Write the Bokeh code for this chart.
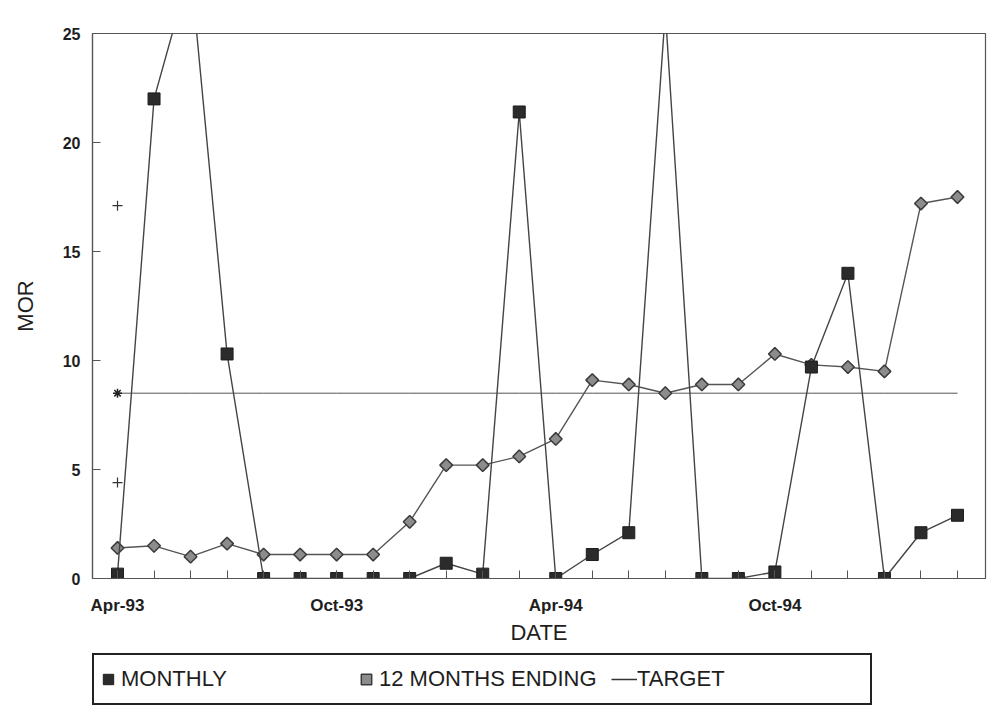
import math
from bokeh.plotting import figure
from bokeh.layouts import column
from bokeh.models import FixedTicker, Legend, LegendItem, Range1d
from bokeh.embed import file_html
from bokeh.resources import INLINE

# ---- data ----
months = ["Apr-93", "May-93", "Jun-93", "Jul-93", "Aug-93", "Sep-93", "Oct-93", "Nov-93",
          "Dec-93", "Jan-94", "Feb-94", "Mar-94", "Apr-94", "May-94", "Jun-94", "Jul-94",
          "Aug-94", "Sep-94", "Oct-94", "Nov-94", "Dec-94", "Jan-95", "Feb-95", "Mar-95"]
monthly = [0.2, 22.0, 28.0, 10.3, 0.0, 0.0, 0.0, 0.0, 0.0, 0.7, 0.2, 21.4,
           0.0, 1.1, 2.1, 26.0, 0.0, 0.0, 0.3, 9.7, 14.0, 0.0, 2.1, 2.9]
twelve_months = [1.4, 1.5, 1.0, 1.6, 1.1, 1.1, 1.1, 1.1, 2.6, 5.2, 5.2, 5.6,
                 6.4, 9.1, 8.9, 8.5, 8.9, 8.9, 10.3, 9.8, 9.7, 9.5, 17.2, 17.5]
target = [8.5] * len(months)
limit_values = [17.1, 4.4]          # extra marks drawn at the first month
tick_labels = {0: "Apr-93", 6: "Oct-93", 12: "Apr-94", 18: "Oct-94"}
y_ticks = [0, 5, 10, 15, 20, 25]
legend_labels = ["MONTHLY", "12 MONTHS ENDING", "TARGET"]

x = list(range(len(months)))

FONT = "Liberation Sans"
TXT = "#1e1e1e"
LINE = "#555555"

# ---------------- main chart ----------------
p = figure(width=990, height=650, output_backend="svg", toolbar_location=None,
           x_range=Range1d(-0.685, 23.767), y_range=Range1d(0, 25),
           min_border_left=92, min_border_top=33, min_border_right=5, min_border_bottom=72,
           background_fill_color="white", border_fill_color="white")
p.grid.visible = False
p.outline_line_color = LINE
p.outline_line_width = 1.2

# target line
p.line(x, target, line_color=LINE, line_width=1)
p.scatter([x[0]], [target[0]], marker="asterisk", size=9, line_color="#222222", line_width=1.5)
p.scatter([x[0]] * len(limit_values), limit_values, marker="cross", size=10,
          line_color="#333333", line_width=1.2)

# 12 months ending
p.line(x, twelve_months, line_color=LINE, line_width=1.4)
p.scatter(x, twelve_months, marker="square", angle=math.pi / 4, size=9,
          fill_color="#8c8c8c", line_color="#3a3a3a", line_width=1.5)

# monthly
p.line(x, monthly, line_color="#444444", line_width=1.4)
p.scatter(x, monthly, marker="square", size=12, fill_color="#2b2b2b",
          line_color="#1e1e1e", line_width=1)

# axes
xa = p.xaxis[0]
xa.ticker = FixedTicker(ticks=[0, 6, 12, 18], minor_ticks=x)
xa.major_label_overrides = tick_labels
xa.major_tick_in = 8
xa.major_tick_out = 0
xa.minor_tick_in = 8
xa.minor_tick_out = 0
xa.axis_label = "DATE"

ya = p.yaxis[0]
ya.ticker = FixedTicker(ticks=y_ticks)
ya.major_tick_in = 8
ya.major_tick_out = 0
ya.axis_label = "MOR"

for ax in (xa, ya):
    ax.axis_line_color = LINE
    ax.axis_line_width = 1.2
    ax.major_tick_line_color = LINE
    ax.major_label_text_font = FONT
    ax.major_label_text_font_style = "bold"
    ax.major_label_text_color = TXT
    ax.axis_label_text_font = FONT
    ax.axis_label_text_font_size = "22px"
    ax.axis_label_text_font_style = "normal"
    ax.axis_label_text_color = TXT
xa.minor_tick_line_color = LINE
ya.minor_tick_line_color = None
xa.major_label_text_font_size = "17px"
ya.major_label_text_font_size = "16px"
xa.major_label_standoff = 17
ya.major_label_standoff = 12
xa.axis_label_standoff = 2
ya.axis_label_standoff = 22

# ---------------- legend strip ----------------
q = figure(width=990, height=58, output_backend="svg", toolbar_location=None,
           x_range=Range1d(0, 1), y_range=Range1d(0, 1),
           x_axis_type=None, y_axis_type=None,
           min_border_left=0, min_border_right=0, min_border_top=0, min_border_bottom=0,
           background_fill_color="white", border_fill_color="white")
q.grid.visible = False
q.outline_line_color = None
# legend proxies (same styling as the chart's series, drawn out of view)
r1 = q.scatter([-5], [-5], marker="square", size=12, fill_color="#2b2b2b",
               line_color="#1e1e1e", line_width=1)
r2 = q.scatter([-5], [-5], marker="square", angle=math.pi / 4, size=9,
               fill_color="#8c8c8c", line_color="#3a3a3a", line_width=1.5)
r3 = q.line([-5, -4], [-5, -5], line_color="#333333", line_width=1.5)

legend = Legend(items=[LegendItem(label=legend_labels[0], renderers=[r1]),
                       LegendItem(label=legend_labels[1], renderers=[r2]),
                       LegendItem(label=legend_labels[2], renderers=[r3])],
                orientation="horizontal", location=(0, 3),
                glyph_width=26, glyph_height=46, label_height=46,
                label_width=232, label_standoff=0, spacing=0, padding=1, margin=0,
                label_text_font=FONT, label_text_font_size="22px", label_text_color=TXT,
                border_line_color="#222222", border_line_width=2, border_line_alpha=1.0,
                background_fill_color="white", background_fill_alpha=1.0)
q.add_layout(legend, "center")

layout = column(p, q, spacing=0)
open("out.html", "w").write(file_html(layout, INLINE))
